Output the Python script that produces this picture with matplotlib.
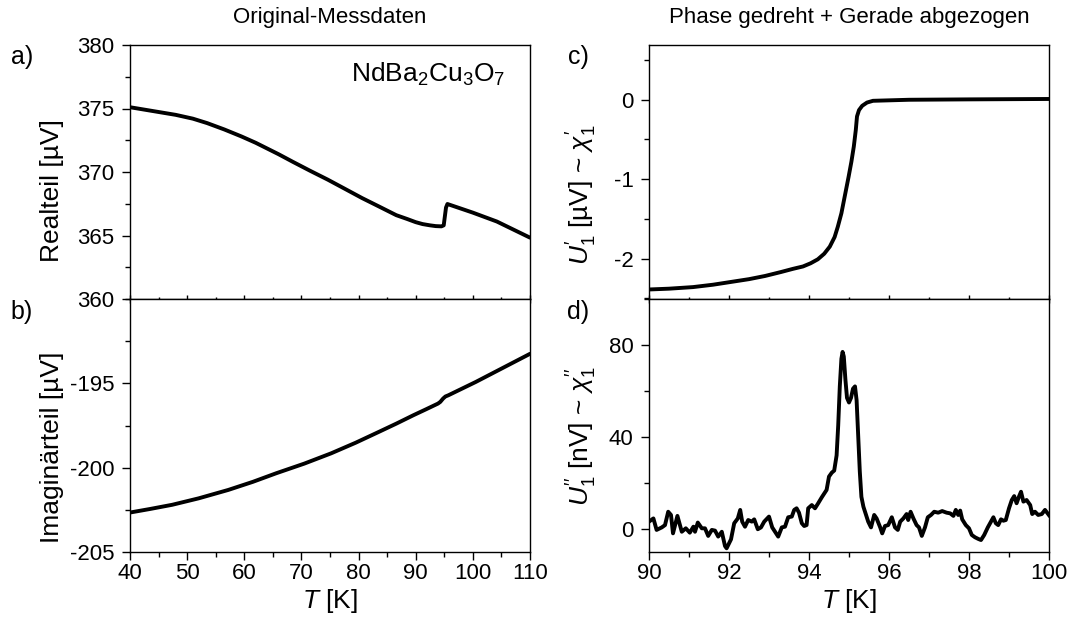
import matplotlib
matplotlib.use("Agg")
import matplotlib.pyplot as plt
from matplotlib.ticker import MultipleLocator

plt.rcParams['font.family'] = ['Liberation Sans', 'DejaVu Sans']
plt.rcParams['mathtext.fontset'] = 'custom'
plt.rcParams['mathtext.rm'] = 'Liberation Sans'
plt.rcParams['mathtext.it'] = 'Liberation Sans:italic'
plt.rcParams['axes.unicode_minus'] = False

# a) Realteil, Original-Messdaten
T_a = [40, 44, 48, 51, 53.5, 56.5, 59.5, 62, 64, 66, 68.5, 71.5, 74.6, 77.5, 80.6, 83.5,
       86.6, 88.5, 90, 91.2, 92.5, 93.5, 94.5, 94.9, 95.1, 95.3, 95.55, 100, 104.2, 110]
V_a = [375.1, 374.8, 374.5, 374.2, 373.85, 373.35, 372.8, 372.3, 371.85, 371.4, 370.8,
       370.1, 369.4, 368.7, 367.95, 367.3, 366.6, 366.3, 366.05, 365.9, 365.8, 365.74,
       365.72, 365.8, 366.5, 367.2, 367.48, 366.8, 366.1, 364.83]

# b) Imaginaerteil, Original-Messdaten
T_b = [40, 43.5, 47.4, 52, 57.2, 61.5, 65.6, 70.5, 75.2, 79.5, 83.6, 86.6, 89.6, 91.8,
       93.9, 94.3, 94.8, 95.2, 95.7, 100.5, 110]
V_b = [-202.66, -202.45, -202.2, -201.82, -201.32, -200.84, -200.33, -199.76, -199.15,
       -198.52, -197.87, -197.39, -196.89, -196.54, -196.2, -196.1, -195.9, -195.78,
       -195.71, -194.92, -193.25]

# c) U1' nach Phasendrehung
T_c = [90.0, 90.5, 91.1, 91.6, 92.05, 92.5, 92.9, 93.3, 93.6, 93.85, 94.04, 94.22,
       94.38, 94.52, 94.64, 94.72, 94.81, 94.9, 94.99, 95.06, 95.12, 95.17, 95.2, 95.25,
       95.33, 95.45, 95.6, 96.5, 98, 100]
V_c = [-2.39, -2.38, -2.36, -2.33, -2.295, -2.26, -2.22, -2.17, -2.13, -2.1, -2.06,
       -2.01, -1.94, -1.85, -1.73, -1.6, -1.43, -1.2, -0.97, -0.78, -0.59, -0.38, -0.21,
       -0.13, -0.076, -0.035, -0.013, 0.0, 0.005, 0.01]

# d) U1'' in nV
T_d = [90.0, 90.11, 90.19, 90.32, 90.4, 90.48, 90.55, 90.6, 90.71, 90.82,
       90.92, 91.02, 91.11, 91.15, 91.22, 91.32, 91.4, 91.48, 91.57, 91.65,
       91.73, 91.82, 91.9, 91.94, 92.05, 92.13, 92.22, 92.28, 92.33, 92.4,
       92.48, 92.57, 92.63, 92.72, 92.8, 92.88, 93.0, 93.08, 93.15, 93.23,
       93.32, 93.4, 93.48, 93.57, 93.63, 93.69, 93.75, 93.82, 93.88, 93.94,
       93.98, 94.07, 94.15, 94.23, 94.32, 94.44, 94.5, 94.57, 94.63, 94.69,
       94.73, 94.77, 94.81, 94.84, 94.87, 94.91, 94.95, 95.0, 95.05, 95.1,
       95.15, 95.19, 95.23, 95.27, 95.31, 95.36, 95.4, 95.48, 95.55, 95.63,
       95.69, 95.78, 95.83, 95.9, 95.98, 96.07, 96.15, 96.22, 96.28, 96.36,
       96.44, 96.48, 96.54, 96.61, 96.69, 96.75, 96.82, 96.9, 96.97, 97.05,
       97.13, 97.23, 97.33, 97.44, 97.53, 97.61, 97.67, 97.73, 97.78, 97.83,
       97.92, 98.0, 98.07, 98.15, 98.23, 98.3, 98.38, 98.47, 98.55, 98.61,
       98.67, 98.73, 98.8, 98.86, 98.92, 99.0, 99.07, 99.13, 99.19, 99.25,
       99.3, 99.36, 99.44, 99.53, 99.58, 99.65, 99.73, 99.82, 99.9, 100.0]
V_d = [3.2, 4.6, -0.4, 0.7, 1.7, 7.5, 6.1, -1.9, 5.7, -1.2,
       0.3, -1.6, 1.0, -1.2, 2.8, 0.3, 0.3, -3.0, -0.4, -0.7,
       -3.3, -1.2, -7.4, -8.4, -4.5, 2.5, 4.6, 8.3, 3.2, 1.0,
       3.9, 3.2, 4.2, -0.1, 0.7, 3.2, 5.4, 0.7, -1.2, -3.3,
       0.7, 1.0, 5.1, 5.4, 8.3, 9.0, 7.1, 2.5, 1.3, 1.7,
       9.0, 10.4, 9.0, 11.2, 13.8, 17.0, 22.8, 24.5, 25.4, 32.0,
       45.0, 62.0, 74.0, 77.0, 75.0, 65.0, 57.0, 55.0, 57.0, 61.0,
       62.0, 56.0, 40.0, 25.0, 14.0, 9.7, 7.5, 3.2, 0.7, 6.1,
       4.6, 0.7, -1.9, 1.3, 1.7, 5.1, 0.7, -0.4, 3.2, 4.6,
       6.5, 3.9, 7.5, 4.6, 1.7, 0.7, -3.0, 0.7, 5.1, 6.1,
       7.5, 7.1, 7.8, 7.1, 6.8, 5.7, 8.3, 6.1, 8.0, 4.2,
       1.7, 0.3, -2.6, -3.6, -4.3, -4.8, -2.6, 0.7, 3.2, 5.1,
       2.5, 1.7, 4.2, 3.6, 3.9, 9.0, 12.6, 14.3, 11.2, 14.1,
       16.2, 11.9, 12.6, 10.4, 6.5, 7.5, 6.1, 6.5, 8.3, 6.0]

W, H = 1073, 629
fig = plt.figure(figsize=(W / 100, H / 100), dpi=100)


def px_axes(x0, y0, x1, y1):
    return fig.add_axes([x0 / W, 1 - y1 / H, (x1 - x0) / W, (y1 - y0) / H])


ax_a = px_axes(130, 45, 530, 299)
ax_b = px_axes(130, 299, 530, 552)
ax_c = px_axes(649, 45, 1049, 299)
ax_d = px_axes(649, 299, 1049, 552)

LW = 2.8
ax_a.plot(T_a, V_a, color='black', lw=LW, solid_capstyle='round', solid_joinstyle='round')
ax_b.plot(T_b, V_b, color='black', lw=LW, solid_capstyle='round', solid_joinstyle='round')
ax_c.plot(T_c, V_c, color='black', lw=LW, solid_capstyle='round', solid_joinstyle='round')
ax_d.plot(T_d, V_d, color='black', lw=LW, solid_joinstyle='round')

ax_a.set_xlim(40, 110)
ax_b.set_xlim(40, 110)
ax_a.set_ylim(360, 380)
ax_b.set_ylim(-205, -190)
ax_c.set_xlim(90, 100)
ax_d.set_xlim(90, 100)
ax_c.set_ylim(-2.51, 0.69)
ax_d.set_ylim(-10, 100)

for ax in (ax_a, ax_b):
    ax.xaxis.set_major_locator(MultipleLocator(10))
    ax.xaxis.set_minor_locator(MultipleLocator(5))
    ax.yaxis.set_major_locator(MultipleLocator(5))
    ax.yaxis.set_minor_locator(MultipleLocator(2.5))
for ax in (ax_c, ax_d):
    ax.xaxis.set_major_locator(MultipleLocator(2))
    ax.xaxis.set_minor_locator(MultipleLocator(1))
ax_c.yaxis.set_major_locator(MultipleLocator(1))
ax_c.yaxis.set_minor_locator(MultipleLocator(0.5))
ax_d.yaxis.set_major_locator(MultipleLocator(40))
ax_d.yaxis.set_minor_locator(MultipleLocator(20))

for ax in (ax_a, ax_b, ax_c, ax_d):
    for sp in ax.spines.values():
        sp.set_linewidth(1.0)
    ax.tick_params(axis='both', which='major', direction='out', length=6, width=1.0,
                   labelsize=16, top=False, right=False)
    ax.tick_params(axis='both', which='minor', direction='out', length=3.5, width=1.0,
                   top=False, right=False)
    ax.tick_params(axis='x', which='major', pad=2)
    ax.tick_params(axis='y', which='major', pad=5)

for ax in (ax_a, ax_c):
    ax.tick_params(axis='x', which='both', direction='inout', labelbottom=False)

# lower panels: no label at the shared boundary
ax_b.set_yticks([-205, -200, -195])
ax_d.set_yticks([0, 40, 80])

ax_a.set_ylabel('Realteil [µV]', fontsize=19)
ax_b.set_ylabel('Imaginärteil [µV]', fontsize=19)
ax_c.set_ylabel(r"$U_1^{\prime}$ [µV] ~ $\chi_1^{\prime}$", fontsize=19)
ax_d.set_ylabel(r"$U_1^{\prime\prime}$ [nV] ~ $\chi_1^{\prime\prime}$", fontsize=19)
ax_a.yaxis.set_label_coords(-0.165, 0.425)
ax_b.yaxis.set_label_coords(-0.165, 0.415)
ax_c.yaxis.set_label_coords(-0.125, 0.41)
ax_d.yaxis.set_label_coords(-0.125, 0.46)

ax_b.set_xlabel(r'$T$ [K]', fontsize=19, labelpad=2)
ax_d.set_xlabel(r'$T$ [K]', fontsize=19, labelpad=2)

ax_a.text(0.9375, 0.854, r'NdBa$_2$Cu$_3$O$_7$', transform=ax_a.transAxes,
          ha='right', va='baseline', fontsize=19)

fig.text(330 / W, 1 - 18 / H, 'Original-Messdaten', ha='center', va='center', fontsize=16)
fig.text(849 / W, 1 - 18 / H, 'Phase gedreht + Gerade abgezogen', ha='center',
         va='center', fontsize=16)

for lab, x, y in (('a)', 22, 57), ('b)', 22, 312), ('c)', 578, 57), ('d)', 578, 312)):
    fig.text(x / W, 1 - y / H, lab, ha='center', va='center', fontsize=18)

fig.savefig('out.png', dpi=100)
